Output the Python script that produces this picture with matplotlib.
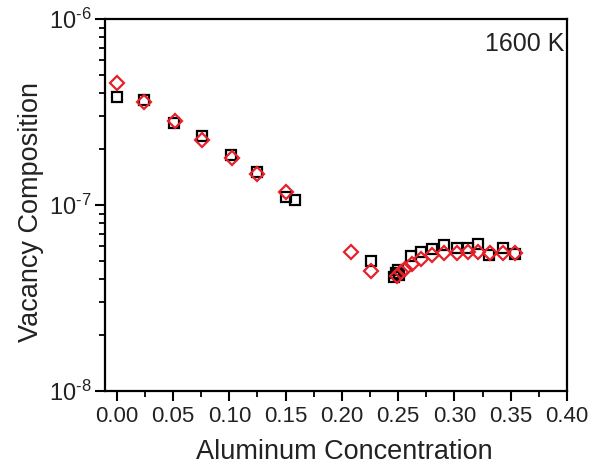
import matplotlib
matplotlib.use("Agg")
import matplotlib.pyplot as plt
from matplotlib.ticker import MultipleLocator, LogLocator, NullFormatter

plt.rcParams['font.family'] = ['Liberation Sans', 'DejaVu Sans']
plt.rcParams['mathtext.fontset'] = 'custom'
plt.rcParams['mathtext.rm'] = 'Liberation Sans'
plt.rcParams['mathtext.it'] = 'Liberation Sans'
plt.rcParams['mathtext.bf'] = 'Liberation Sans'

# Data
sq_x = [0.0, 0.024, 0.051, 0.0755, 0.1015, 0.1245, 0.1505, 0.1585, 0.2255,
        0.2465, 0.248, 0.2495, 0.251, 0.261, 0.270, 0.280, 0.2905, 0.3025,
        0.312, 0.321, 0.3305, 0.343, 0.3535]
sq_y = [3.8e-7, 3.68e-7, 2.77e-7, 2.35e-7, 1.85e-7, 1.50e-7, 1.11e-7, 1.06e-7,
        5.0e-8, 4.1e-8, 4.3e-8, 4.5e-8, 4.2e-8, 5.3e-8, 5.6e-8, 5.8e-8, 6.1e-8,
        5.85e-8, 5.9e-8, 6.15e-8, 5.4e-8, 5.85e-8, 5.45e-8]

di_x = [0.0, 0.0245, 0.0515, 0.0755, 0.102, 0.1245, 0.1505, 0.208, 0.2255,
        0.249, 0.2525, 0.256, 0.2625, 0.2705, 0.280, 0.2905, 0.3025, 0.312,
        0.321, 0.3315, 0.3435, 0.3535]
di_y = [4.55e-7, 3.6e-7, 2.83e-7, 2.24e-7, 1.79e-7, 1.46e-7, 1.17e-7, 5.6e-8,
        4.4e-8, 4.15e-8, 4.35e-8, 4.55e-8, 4.8e-8, 5.1e-8, 5.4e-8, 5.55e-8,
        5.55e-8, 5.6e-8, 5.6e-8, 5.55e-8, 5.55e-8, 5.55e-8]

x_ticks = [0.00, 0.05, 0.10, 0.15, 0.20, 0.25, 0.30, 0.35, 0.40]
x_ticklabels = ["0.00", "0.05", "0.10", "0.15", "0.20", "0.25", "0.30", "0.35", "0.40"]
y_ticks = [1e-8, 1e-7, 1e-6]
y_ticklabels = [r"$10^{\text{-8}}$", r"$10^{\text{-7}}$", r"$10^{\text{-6}}$"]

fig = plt.figure(figsize=(6.04, 4.70), dpi=100)
ax = fig.add_axes([105/604, 1-391/470, (567-105)/604, (391-19)/470])

ax.plot(sq_x, sq_y, linestyle='none', marker='s', markersize=7.5,
        markerfacecolor='none', markeredgecolor='black', markeredgewidth=1.6, zorder=3)
ax.plot(di_x, di_y, linestyle='none', marker='D', markersize=7,
        markerfacecolor='none', markeredgecolor='#e8202a', markeredgewidth=1.6, zorder=4)

ax.set_yscale('log')
ax.set_xlim(-0.0105, 0.40)
ax.set_ylim(1e-8, 1e-6)

ax.set_xticks(x_ticks)
ax.set_xticklabels(x_ticklabels)
ax.xaxis.set_minor_locator(MultipleLocator(0.025))
ax.set_yticks(y_ticks)
ax.set_yticklabels(y_ticklabels)
ax.yaxis.set_minor_locator(LogLocator(base=10, subs=range(2, 10)))
ax.yaxis.set_minor_formatter(NullFormatter())

ax.tick_params(axis='both', which='major', direction='out', length=7, width=1.5,
               labelsize=16, colors='black', pad=4, labelcolor='#222222')
ax.tick_params(axis='y', which='major', labelsize=17, pad=3)
ax.tick_params(axis='both', which='minor', direction='out', length=4, width=1.3)
ax.tick_params(top=False, right=False, which='both')

for s in ax.spines.values():
    s.set_linewidth(1.6)
    s.set_color('black')

ax.set_xlabel("Aluminum Concentration", fontsize=19.5, color='#222222', va='center')
ax.set_ylabel("Vacancy Composition", fontsize=19.5, color='#222222', va='center')
ax.xaxis.set_label_coords(0.519, -0.164)
ax.yaxis.set_label_coords(-0.16, 0.48)

ax.text(0.995, 0.933, "1600 K", transform=ax.transAxes, ha='right', va='center',
        fontsize=18, color='#222222')

fig.savefig("out.png", dpi=100)
